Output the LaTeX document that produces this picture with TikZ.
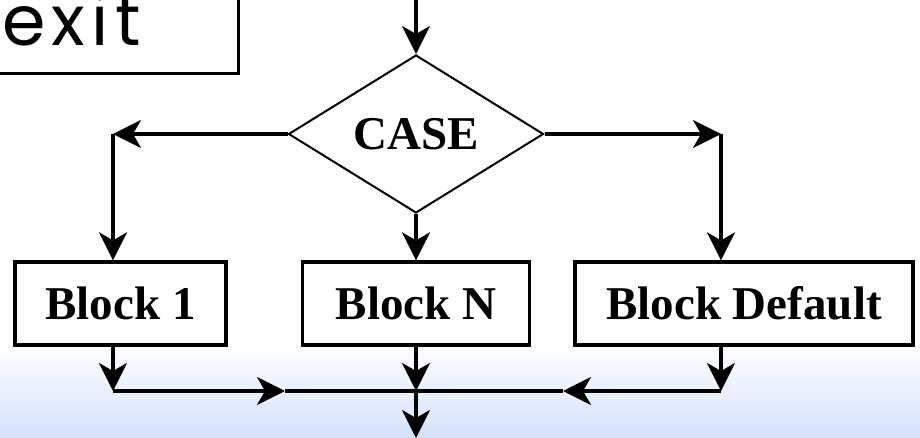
\documentclass[tikz,border=0pt]{standalone}
\usepackage{fontspec}
\setmainfont{Liberation Serif}
\newfontfamily\exitfont[LetterSpace=9]{Poppins}
\usetikzlibrary{shapes.geometric,arrows.meta}
\definecolor{bgblue}{RGB}{212,226,250}
\tikzset{
  arr/.style={line width=3.3pt,-{Stealth[length=28pt,width=28pt,inset=8pt]}},
  ln/.style={line width=3.3pt},
  blockbox/.style={draw,line width=3.3pt,rectangle,minimum height=83pt,inner sep=0pt,
    font=\fontsize{47}{50}\selectfont\bfseries},
  decision/.style={draw,line width=2pt,diamond,minimum width=255pt,minimum height=158pt,
    inner sep=0pt,font=\fontsize{47}{50}\selectfont\bfseries}
}
\begin{document}
\begin{tikzpicture}[x=1pt,y=-1pt]
\useasboundingbox (0,0) rectangle (920,438);
\fill[white] (0,0) rectangle (920,438);
\shade[top color=white,bottom color=bgblue] (0,343) rectangle (920,438);
\begin{scope}
\clip (0,0) rectangle (920,438);
\node[draw,line width=3.3pt,rectangle,minimum width=260pt,minimum height=130pt,anchor=south east,inner sep=0pt] (exitbox) at (240,75) {};
\node[anchor=base west,inner sep=0pt,font=\exitfont\fontsize{70}{72}\selectfont] (exit) at (2,46) {exit};
\end{scope}
\node[decision] (case) at (416,134) {CASE};
\node[blockbox,minimum width=211pt] (b1) at (120.5,303.5) {Block 1};
\node[blockbox,minimum width=227pt] (bn) at (416,303.5) {Block N};
\node[blockbox,minimum width=338pt] (bd) at (744,303.5) {Block Default};
\coordinate (in) at (416,-4);
\coordinate (L) at (113,134);
\coordinate (R) at (721,134);
\coordinate (j1) at (113,391);
\coordinate (jn) at (416,391);
\coordinate (jd) at (721,391);
\coordinate (m1) at (285,391);
\coordinate (md) at (563,391);
\coordinate (out) at (416,438);
\draw[arr] (in) -- (case.north);
\draw[arr] (case.west) -- (L);
\draw[arr] (L) -- (L |- b1.north);
\draw[arr] (case.east) -- (R);
\draw[arr] (R) -- (R |- bd.north);
\draw[arr] (case.south) -- (bn.north);
\draw[arr] (j1 |- b1.south) -- (j1);
\draw[arr] (bn.south) -- (jn);
\draw[arr] (jd |- bd.south) -- (jd);
\draw[arr] (j1) -- (m1);
\draw[ln] (m1) -- (jn);
\draw[arr] (jd) -- (md);
\draw[ln] (md) -- (jn);
\draw[arr] (jn) -- (out);
\end{tikzpicture}
\end{document}
